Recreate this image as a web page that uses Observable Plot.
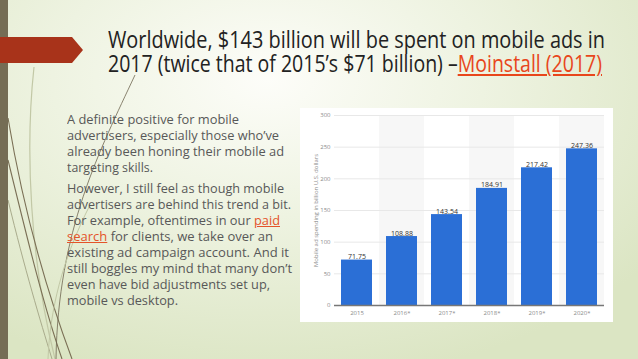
<!DOCTYPE html>
<html>
<head>
<meta charset="utf-8">
<script src="https://cdn.jsdelivr.net/npm/d3@7"></script>
<script src="https://cdn.jsdelivr.net/npm/@observablehq/plot@0.6"></script>
<style>
  html, body { margin: 0; padding: 0; }
  body {
    width: 638px; height: 359px; overflow: hidden; position: relative;
    background: radial-gradient(ellipse 75% 85% at 42% 22%, #fdfdf9 0%, #eef3e1 45%, #dbe5c3 100%);
    font-family: "Open Sans", sans-serif;
  }
  #deco { position: absolute; left: 0; top: 0; }
  .fit { position: absolute; white-space: nowrap; display: inline-block; transform-origin: 0 0; line-height: 1; }
  .title { font-size: 23px; color: #222; }
  .body { font-size: 13px; color: #585858; }
  a { color: #e4532a; text-decoration: underline; }
  .title a { color: #e8461b; }
  #chart { position: absolute; left: 300px; top: 108px; }
</style>
</head>
<body>
<svg id="deco" width="638" height="359">
  <path d="M 34 67 C 25 150, 30 260, 55 359" fill="none" stroke="#c2c8a6" stroke-width="1.2"/>
  <path d="M 8 118 C 25 220, 50 300, 72 359" fill="none" stroke="#7a6f55" stroke-width="1.1"/>
  <path d="M 8 160 C 30 250, 45 310, 62 359" fill="none" stroke="#7a6f55" stroke-width="1.1"/>
  <path d="M 8 200 C 25 270, 40 320, 52 359" fill="none" stroke="#a9ab8c" stroke-width="1"/>
  <path d="M 135 75 C 100 150, 58 230, 56 359" fill="none" stroke="#6f6650" stroke-width="0.8"/>
  <path d="M 90 205 C 62 260, 50 310, 48 359" fill="none" stroke="#c2c8a6" stroke-width="1"/>
  <rect x="0" y="0" width="8" height="359" fill="#756d55"/>
  <polygon points="0,37 72,37 83,50 72,63 0,63" fill="#a8331a"/>
</svg>

<div class="fit title" data-w="497" style="left:108px; top:28px;">Worldwide, $143 billion will be spent on mobile ads in</div>
<div class="fit title" data-w="494" style="left:108px; top:52px;">2017 (twice that of 2015’s $71 billion) –<a>Moinstall (2017)</a></div>

<div class="fit body" data-w="172" style="left:67px; top:113px;">A definite positive for mobile</div>
<div class="fit body" data-w="212" style="left:67px; top:129px;">advertisers, especially those who’ve</div>
<div class="fit body" data-w="217" style="left:67px; top:145px;">already been honing their mobile ad</div>
<div class="fit body" data-w="86" style="left:67px; top:161px;">targeting skills.</div>
<div class="fit body" data-w="217" style="left:67px; top:182px;">However, I still feel as though mobile</div>
<div class="fit body" data-w="224" style="left:67px; top:198px;">advertisers are behind this trend a bit.</div>
<div class="fit body" data-w="213" style="left:67px; top:214px;">For example, oftentimes in our <a>paid</a></div>
<div class="fit body" data-w="206" style="left:67px; top:230px;"><a>search</a> for clients, we take over an</div>
<div class="fit body" data-w="222" style="left:67px; top:246px;">existing ad campaign account. And it</div>
<div class="fit body" data-w="225" style="left:67px; top:262px;">still boggles my mind that many don’t</div>
<div class="fit body" data-w="203" style="left:67px; top:278px;">even have bid adjustments set up,</div>
<div class="fit body" data-w="111" style="left:67px; top:294px;">mobile vs desktop.</div>

<div id="chart"></div>

<script>
const years = ["2015", "2016*", "2017*", "2018*", "2019*", "2020*"];
const spend = [71.75, 108.88, 143.54, 184.91, 217.42, 247.36];
const yTicks = [0, 50, 100, 150, 200, 250, 300];
const yLabel = "Mobile ad spending in billion U.S. dollars";

const data = years.map((year, i) => ({year, value: spend[i]}));
const shaded = data.filter((d, i) => i % 2 === 1);

const chart = Plot.plot({
  width: 313,
  height: 214,
  marginLeft: 34,
  marginRight: 9,
  marginTop: 7,
  marginBottom: 17,
  style: {background: "#ffffff", fontFamily: "Open Sans, sans-serif", fontSize: "6px", color: "#8a8a8a"},
  x: {domain: years, paddingInner: 0.31, paddingOuter: 0.155, label: null, tickSize: 0, tickPadding: 5},
  y: {domain: [0, 300], ticks: yTicks, tickSize: 0, tickPadding: 4, label: yLabel, labelAnchor: "center", labelArrow: "none", labelOffset: 21},
  marks: [
    Plot.barY(shaded, {x: "year", y1: 0, y2: 300, fill: "#f7f7f7", insetLeft: -7, insetRight: -7}),
    Plot.ruleY(yTicks.slice(1), {stroke: "#e8e8e8"}),
    Plot.barY(data, {x: "year", y: "value", fill: "#2b6fd6"}),
    Plot.ruleY([0], {stroke: "#777", strokeWidth: 1.5}),
    Plot.text(data, {x: "year", y: "value", text: d => d.value.toFixed(2), dy: -1, lineAnchor: "bottom", fill: "#333", fontSize: 7})
  ]
});
document.getElementById("chart").appendChild(chart);

document.querySelectorAll(".fit").forEach(el => {
  const target = +el.dataset.w;
  const w = el.getBoundingClientRect().width;
  if (w > 0) el.style.transform = `scaleX(${target / w})`;
});
</script>
</body>
</html>
